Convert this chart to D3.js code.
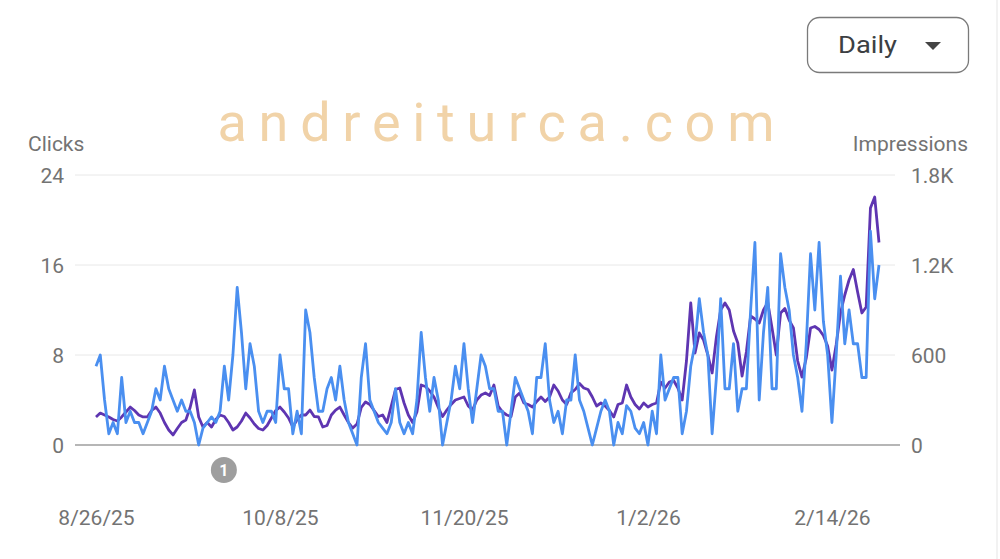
<!DOCTYPE html>
<html><head><meta charset="utf-8">
<script src="https://cdn.jsdelivr.net/npm/d3@7"></script>
<style>
html,body{margin:0;padding:0;background:#fff;}
svg{display:block;font-family:Roboto,"Noto Sans",Arial,sans-serif;}
</style></head>
<body><svg id="chart" width="1000" height="559"></svg>
<script>
const startDate = "2025-08-26";
const clicks = [7,8,4,1,2,1,6,2,3,2,2,1,2,3,5,4,7,5,4,3,4,
3,3,2,0,1.5,2,2.5,2,3,7,4,8,14,10,5,9,7,3,2,3,3,2,8,
5,5,1,3,1,12,10,6,3,3,5,6,4,7,4,2,1,0,6,9,4,3,2,1.5,
1,2,5,2,1,2,1,4,10,6,3,6,4,0,2,4,7,5,9,5,2,5,8,7,
5,5,3,3,0,3,6,5,4,3,1,6,6,9,4,2,3,1,4,4,8,4,3,
1.5,0,1.5,3,4,3,0,2,1,3.5,3,1.5,1,2,0,3,1,8,4,5,6,6,1,
3,7,9,13,10,8,1,6,13,5,5,9,3,5,5,12,18,4,10,14,5,5,17,14,
12,8,6,3,9,17,12,18,11,8,2,8,15,9,12,9,9,6,6,19,13,16];
const impressions = [187,213,200,187,170,160,187,220,253,230,200,187,187,230,253,213,150,100,67,110,150,
167,250,367,187,120,150,120,170,200,190,150,100,120,160,213,180,140,110,100,130,180,230,253,
220,180,120,170,200,200,233,190,187,120,130,200,233,253,200,150,113,140,250,287,270,230,190,200,
150,260,370,380,280,200,150,220,400,390,360,320,250,190,233,270,300,310,320,260,233,300,333,347,
330,400,260,220,200,190,320,347,280,270,253,290,320,290,320,400,360,300,270,347,370,410,380,
370,320,260,280,260,230,187,270,280,400,320,270,240,280,253,270,280,420,380,420,430,380,300,
560,947,613,747,700,600,480,720,900,947,900,760,680,460,620,860,840,813,900,950,780,600,880,910,
833,780,560,453,580,780,790,770,730,660,500,670,880,1000,1100,1170,1020,880,920,1580,1653,1350];
const xTickLabels = ["8/26/25","10/8/25","11/20/25","1/2/26","2/14/26"];
const clickTicks = [0,8,16,24];
const imprTicks = [0,600,1200,1800];
const imprTickLabels = ["0","600","1.2K","1.8K"];

const parse = d3.timeParse("%Y-%m-%d");
const t0 = parse(startDate);
const dates = clicks.map((_, i) => d3.timeDay.offset(t0, i));
const tickDates = xTickLabels.map(s => d3.timeParse("%m/%d/%y")(s));

const svg = d3.select("#chart");
const x = d3.scaleTime().domain([dates[0], dates[dates.length-1]]).range([96, 879]);
const yL = d3.scaleLinear().domain([0, 24]).range([445, 175]);
const yR = d3.scaleLinear().domain([0, 1800]).range([445, 175]);

// right edge faint line
svg.append("line").attr("x1",997).attr("x2",997).attr("y1",0).attr("y2",559)
  .attr("stroke","#eeeeee").attr("stroke-width",1.5);

// watermark
svg.append("text").attr("x",500).attr("y",141).attr("text-anchor","middle")
  .attr("font-size",54).attr("fill","#f1d3a8").attr("letter-spacing","8")
  .attr("textLength",565).attr("lengthAdjust","spacing")
  .text("andreiturca.com");

// Daily button
svg.append("rect").attr("x",807.5).attr("y",17.5).attr("width",161).attr("height",55)
  .attr("rx",12).attr("fill","#fff").attr("stroke","#7a7a7a").attr("stroke-width",1.3);
svg.append("text").attr("x",838).attr("y",53).attr("font-size",23).attr("fill","#3c4043")
  .attr("textLength",59).attr("lengthAdjust","spacingAndGlyphs").text("Daily");
svg.append("path").attr("d","M925,42 L941,42 L933,50 Z").attr("fill","#444");

// gridlines
svg.append("g").selectAll("line").data(clickTicks.filter(d=>d>0)).join("line")
  .attr("x1",75).attr("x2",895).attr("y1",d=>yL(d)).attr("y2",d=>yL(d))
  .attr("stroke","#e8e8e8").attr("stroke-width",1);
svg.append("line").attr("x1",75).attr("x2",900).attr("y1",yL(0)).attr("y2",yL(0))
  .attr("stroke","#9e9e9e").attr("stroke-width",1.3);

// axes labels
const lab = "#737373";
const fs = 21;
svg.append("text").attr("x",28).attr("y",151).attr("font-size",fs).attr("fill",lab).text("Clicks");
svg.append("text").attr("x",968).attr("y",151).attr("text-anchor","end").attr("font-size",fs).attr("fill",lab).text("Impressions");

const axL = d3.axisLeft(yL).tickValues(clickTicks).tickSize(0).tickPadding(0);
const gL = svg.append("g").attr("transform","translate(64,1)").call(axL);
gL.select(".domain").remove();
gL.selectAll("text").attr("font-size",fs).attr("fill",lab).attr("font-family","Roboto,Arial,sans-serif");

const axR = d3.axisRight(yR).tickValues(imprTicks).tickSize(0).tickPadding(0)
  .tickFormat((d,i)=>imprTickLabels[i]);
const gR = svg.append("g").attr("transform","translate(911,1)").call(axR);
gR.select(".domain").remove();
gR.selectAll("text").attr("font-size",fs).attr("fill",lab).attr("font-family","Roboto,Arial,sans-serif");

const axB = d3.axisBottom(x).tickValues(tickDates).tickSize(0).tickPadding(0)
  .tickFormat(d3.timeFormat("%-m/%-d/%y"));
const gB = svg.append("g").attr("transform","translate(0,510)").call(axB);
gB.select(".domain").remove();
gB.selectAll("text").attr("font-size",fs).attr("fill",lab).attr("font-family","Roboto,Arial,sans-serif");

// lines
const lineI = d3.line().x((d,i)=>x(dates[i])).y(d=>yR(d)).curve(d3.curveLinear);
const lineC = d3.line().x((d,i)=>x(dates[i])).y(d=>yL(d)).curve(d3.curveLinear);
svg.append("path").datum(impressions).attr("d",lineI).attr("fill","none")
  .attr("stroke","#5e35b1").attr("stroke-width",2.8).attr("stroke-linejoin","round");
svg.append("path").datum(clicks).attr("d",lineC).attr("fill","none")
  .attr("stroke","#4a8ff0").attr("stroke-width",2.8).attr("stroke-linejoin","round");

// annotation marker
const annDate = d3.timeDay.offset(t0, 30);
svg.append("circle").attr("cx",x(annDate)-0.5).attr("cy",470).attr("r",13).attr("fill","#9e9e9e");
svg.append("text").attr("x",x(annDate)-0.5).attr("y",476).attr("text-anchor","middle")
  .attr("font-size",16).attr("font-weight","bold").attr("fill","#fff").text("1");
</script></body></html>
